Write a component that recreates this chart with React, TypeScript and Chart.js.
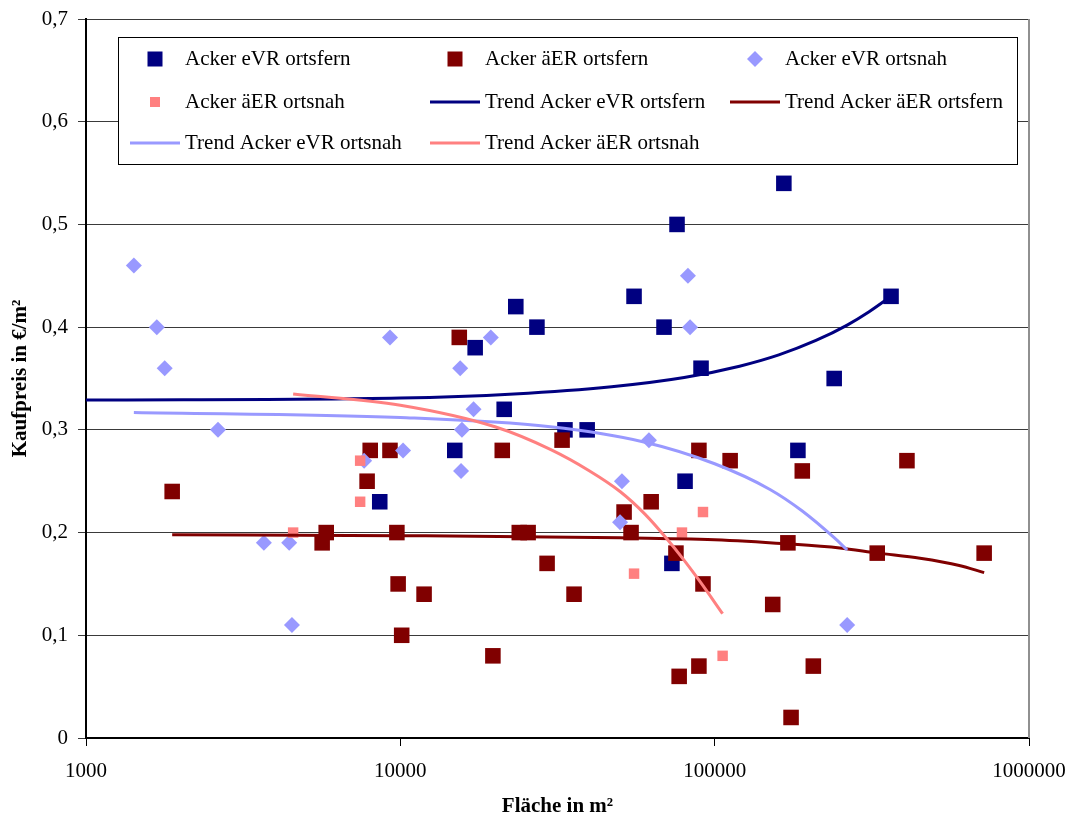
import React, { useEffect, useRef } from "react";
import { Chart, registerables } from "chart.js";

Chart.register(...registerables);

// ---------- data ----------
const xTickValues = [1000, 10000, 100000, 1000000];

const eVRFernX = [8600, 14900, 17300, 21400, 23300, 27200, 33400, 39300, 55400, 69000, 73100, 75900, 80500, 90500, 166000, 184000, 240000, 364000];
const eVRFernY = [0.23, 0.28, 0.38, 0.32, 0.42, 0.40, 0.30, 0.30, 0.43, 0.40, 0.17, 0.50, 0.25, 0.36, 0.54, 0.28, 0.35, 0.43];

const aERFernX = [1880, 5640, 5810, 7840, 8020, 9270, 9750, 9840, 10100, 11900, 15400, 19700, 21100, 23900, 25500, 29300, 32700, 35700, 51500, 54200, 62800, 75300, 77100, 89100, 89100, 91800, 112000, 153000, 171000, 175000, 190000, 206000, 329000, 409000, 720000];
const aERFernY = [0.24, 0.19, 0.20, 0.25, 0.28, 0.28, 0.20, 0.15, 0.10, 0.14, 0.39, 0.08, 0.28, 0.20, 0.20, 0.17, 0.29, 0.14, 0.22, 0.20, 0.23, 0.18, 0.06, 0.28, 0.07, 0.15, 0.27, 0.13, 0.19, 0.02, 0.26, 0.07, 0.18, 0.27, 0.18];

const eVRNahX = [1420, 1680, 1780, 2630, 3680, 4430, 4520, 7670, 9270, 10200, 15500, 15600, 15700, 17100, 19400, 50000, 50700, 61800, 82200, 83500, 264000];
const eVRNahY = [0.46, 0.40, 0.36, 0.30, 0.19, 0.19, 0.11, 0.27, 0.39, 0.28, 0.36, 0.26, 0.30, 0.32, 0.39, 0.21, 0.25, 0.29, 0.45, 0.40, 0.11];

const aERNahX = [4560, 7450, 7450, 55400, 78700, 91800, 106000];
const aERNahY = [0.20, 0.27, 0.23, 0.16, 0.20, 0.22, 0.08];

// trend curves
const trendEVRFernX = [1000, 10000, 23000, 47000, 80000, 120000, 160000, 210000, 264000, 310000, 364000];
const trendEVRFernY = [0.329, 0.331, 0.335, 0.342, 0.351, 0.362, 0.373, 0.387, 0.402, 0.415, 0.430];

const trendAERFernX = [1880, 10000, 50000, 100000, 170000, 250000, 330000, 450000, 600000, 720000];
const trendAERFernY = [0.198, 0.197, 0.195, 0.193, 0.189, 0.185, 0.180, 0.175, 0.168, 0.161];

const trendEVRNahX = [1420, 10000, 30000, 60000, 100000, 150000, 190000, 240000, 264000];
const trendEVRNahY = [0.317, 0.312, 0.303, 0.288, 0.267, 0.242, 0.221, 0.195, 0.183];

const trendAERNahX = [4560, 10000, 20000, 30000, 40000, 50000, 60000, 70000, 80000, 90000, 106000];
const trendAERNahY = [0.335, 0.324, 0.303, 0.281, 0.260, 0.240, 0.218, 0.195, 0.173, 0.152, 0.121];

const seriesLabels = [
  "Acker eVR ortsfern",
  "Acker äER ortsfern",
  "Acker eVR ortsnah",
  "Acker äER ortsnah",
  "Trend Acker eVR ortsfern",
  "Trend Acker äER ortsfern",
  "Trend Acker eVR ortsnah",
  "Trend Acker äER ortsnah",
];

const NAVY = "#000080";
const DARKRED = "#800000";
const LIGHTBLUE = "#9999FF";
const SALMON = "#FF8080";

const FONT = "'Liberation Serif', 'Times New Roman', serif";

const pts = (xs: number[], ys: number[]) => xs.map((x, i) => ({ x, y: ys[i] }));

// custom legend drawn inside the plot area, like the original
const legendPlugin = {
  id: "boxLegend",
  afterDraw(chart: any) {
    const ctx = chart.ctx;
    const { right, top, bottom } = chart.chartArea;
    ctx.save();
    // right border of the plot area
    ctx.strokeStyle = "#909090";
    ctx.lineWidth = 2;
    ctx.beginPath();
    ctx.moveTo(right, top);
    ctx.lineTo(right, bottom);
    ctx.stroke();

    const bx = 118, by = 37, bw = 899, bh = 127;
    ctx.fillStyle = "#fff";
    ctx.fillRect(bx, by, bw, bh);
    ctx.strokeStyle = "#000";
    ctx.lineWidth = 1;
    ctx.strokeRect(bx + 0.5, by + 0.5, bw, bh);

    const cols = [155, 455, 755];
    const rows = [59, 102, 143];
    const items = [
      { kind: "square", color: NAVY, size: 15 },
      { kind: "square", color: DARKRED, size: 15 },
      { kind: "diamond", color: LIGHTBLUE, size: 8 },
      { kind: "square", color: SALMON, size: 10 },
      { kind: "line", color: NAVY },
      { kind: "line", color: DARKRED },
      { kind: "line", color: LIGHTBLUE },
      { kind: "line", color: SALMON },
    ];
    ctx.font = `21px ${FONT}`;
    ctx.textBaseline = "middle";
    ctx.textAlign = "left";
    items.forEach((it, i) => {
      const cx = cols[i % 3];
      const cy = rows[Math.floor(i / 3)];
      ctx.fillStyle = it.color;
      ctx.strokeStyle = it.color;
      if (it.kind === "square") {
        const s = it.size as number;
        ctx.fillRect(cx - s / 2, cy - s / 2, s, s);
      } else if (it.kind === "diamond") {
        const r = it.size as number;
        ctx.beginPath();
        ctx.moveTo(cx - r, cy);
        ctx.lineTo(cx, cy - r);
        ctx.lineTo(cx + r, cy);
        ctx.lineTo(cx, cy + r);
        ctx.closePath();
        ctx.fill();
      } else {
        ctx.lineWidth = 3;
        ctx.beginPath();
        ctx.moveTo(cx - 25, cy);
        ctx.lineTo(cx + 25, cy);
        ctx.stroke();
      }
      ctx.fillStyle = "#000";
      ctx.fillText(seriesLabels[i], cx + 30, cy);
    });
    ctx.restore();
  },
};

export default function App() {
  const canvasRef = useRef<HTMLCanvasElement | null>(null);

  useEffect(() => {
    if (!canvasRef.current) return;
    Chart.defaults.font.family = FONT;
    const trend = (label: string, xs: number[], ys: number[], color: string, order: number) => ({
      label,
      data: pts(xs, ys),
      showLine: true,
      borderColor: color,
      backgroundColor: color,
      borderWidth: 3,
      pointRadius: 0,
      fill: false,
      cubicInterpolationMode: "monotone" as const,
      order,
    });
    const scatter = (label: string, xs: number[], ys: number[], color: string, style: string, radius: number, order: number) => ({
      label,
      data: pts(xs, ys),
      showLine: false,
      pointStyle: style,
      pointRadius: radius,
      pointBackgroundColor: color,
      pointBorderColor: color,
      pointBorderWidth: 0,
      backgroundColor: color,
      borderColor: color,
      order,
    });

    const chart = new Chart(canvasRef.current, {
      type: "scatter",
      data: {
        datasets: [
          scatter(seriesLabels[0], eVRFernX, eVRFernY, NAVY, "rect", 11, 8),
          scatter(seriesLabels[1], aERFernX, aERFernY, DARKRED, "rect", 11, 7),
          scatter(seriesLabels[2], eVRNahX, eVRNahY, LIGHTBLUE, "rectRot", 8, 6),
          scatter(seriesLabels[3], aERNahX, aERNahY, SALMON, "rect", 7.4, 5),
          trend(seriesLabels[4], trendEVRFernX, trendEVRFernY, NAVY, 4),
          trend(seriesLabels[5], trendAERFernX, trendAERFernY, DARKRED, 3),
          trend(seriesLabels[6], trendEVRNahX, trendEVRNahY, LIGHTBLUE, 2),
          trend(seriesLabels[7], trendAERNahX, trendAERNahY, SALMON, 1),
        ] as any,
      },
      options: {
        responsive: false,
        animation: false,
        devicePixelRatio: 1,
        layout: { padding: { left: 0, top: 19, right: 46, bottom: 0 } },
        plugins: {
          legend: { display: false },
          tooltip: { enabled: false },
        },
        scales: {
          x: {
            type: "logarithmic",
            min: 1000,
            max: 1000000,
            position: "bottom",
            afterBuildTicks: (s: any) => {
              s.ticks = xTickValues.map((v) => ({ value: v }));
            },
            afterFit: (s: any) => {
              s.height = 80;
              s.paddingLeft = 0;
              s.paddingRight = 0;
            },
            ticks: {
              callback: (v: any) => String(v),
              font: { size: 21 },
              color: "#000",
              padding: 13,
              maxRotation: 0,
              autoSkip: false,
            },
            grid: { drawOnChartArea: false, drawTicks: true, tickLength: 8, color: "#000" },
            border: { color: "#000", width: 2 },
            title: {
              display: true,
              text: "Fläche in m²",
              font: { size: 21, weight: "bold" },
              color: "#000",
              padding: { top: 0, bottom: -1 },
            },
          },
          y: {
            min: 0,
            max: 0.7,
            afterFit: (s: any) => {
              s.width = 86;
              s.paddingTop = 0;
              s.paddingBottom = 0;
            },
            ticks: {
              stepSize: 0.1,
              callback: (v: any) => (Math.abs(v) < 1e-9 ? "0" : Number(v).toFixed(1).replace(".", ",")),
              font: { size: 21 },
              color: "#000",
              padding: 10,
            },
            grid: { color: "#3a3a3a", lineWidth: 1, tickLength: 8, drawTicks: true },
            border: { color: "#000", width: 2 },
            title: {
              display: true,
              text: "Kaufpreis in €/m²",
              font: { size: 21, weight: "bold" },
              color: "#000",
              padding: { top: 8, bottom: 0 },
            },
          },
        },
      } as any,
      plugins: [legendPlugin],
    });
    return () => chart.destroy();
  }, []);

  return (
    <div style={{ position: "fixed", left: 0, top: 0, width: 1075, height: 818, background: "#fff" }}>
      <canvas ref={canvasRef} width={1075} height={818} style={{ width: 1075, height: 818, display: "block" }} />
    </div>
  );
}
